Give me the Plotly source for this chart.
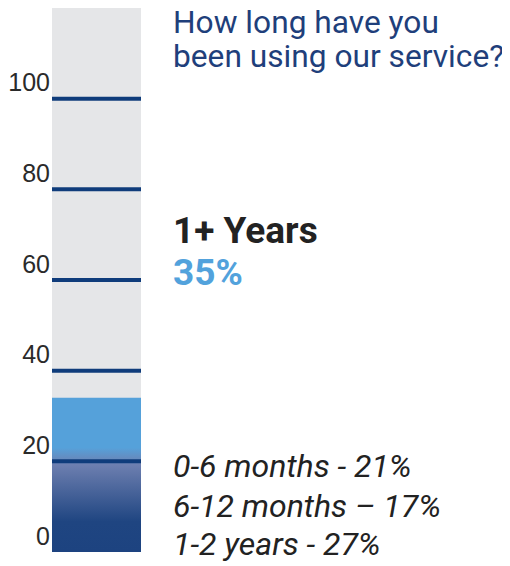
import plotly.graph_objects as go

# ---- data ----
axis_max = 120
tick_values = [0, 20, 40, 60, 80, 100]
tick_labels = ["0", "20", "40", "60", "80", "100"]
grid_values = [20, 40, 60, 80, 100]
highlight_level = 34      # light-blue fill top ("1+ Years 35%")
base_level = 23           # gradient fill top
title_lines = ["How long have you", "been using our service?"]
headline = "1+ Years"
headline_value = "35%"
detail_lines = ["0-6 months - 21%", "6-12 months \u2013 17%", "1-2 years - 27%"]

OFF = 8                           # page body margin
W, H = 510 - OFF, 566 - OFF
L, R, T, B = 52 - OFF, 141 - OFF, 0, 552 - OFF   # plot area in figure pixels


def px_x(px):
    return (px - OFF - L) / (R - L)


def px_y(py):
    return (B - (py - OFF)) / (B - T)


fig = go.Figure()

# background column
fig.add_trace(go.Bar(x=[0], y=[axis_max], width=1, marker=dict(color="#e5e6e8", line_width=0),
                     hoverinfo="skip", showlegend=False))
# light blue fill
fig.add_trace(go.Bar(x=[0], y=[highlight_level], width=1, marker=dict(color="#55a1da", line_width=0),
                     hoverinfo="skip", showlegend=False))
# gradient base fill
fig.add_trace(go.Scatter(
    x=[-0.5, 0.5, 0.5, -0.5, -0.5], y=[0, 0, base_level, base_level, 0],
    mode="lines", line=dict(width=0), fill="toself",
    fillgradient=dict(type="vertical",
                      colorscale=[[0, "#1d4380"], [0.29, "#1f4581"], [0.84, "#6d7fb0"], [1, "#56a1da"]]),
    hoverinfo="skip", showlegend=False))

for v in grid_values:
    fig.add_shape(type="line", xref="x", yref="y", x0=-0.5, x1=0.5, y0=v, y1=v,
                  line=dict(color="#0f3c7b", width=4), layer="above")

fig.update_layout(
    width=W, height=H,
    margin=dict(l=L, r=W - R, t=T, b=H - B, pad=0, autoexpand=False),
    paper_bgcolor="white", plot_bgcolor="white",
    barmode="overlay", showlegend=False,
    xaxis=dict(range=[-0.5, 0.5], visible=False, fixedrange=True, automargin=False),
    yaxis=dict(range=[0, axis_max], tickvals=tick_values, ticktext=tick_labels,
               showgrid=False, zeroline=False, showline=False, ticks="", automargin=False,
               ticklabelshift=-16, ticklabelstandoff=1, ticklabeloverflow="allow",
               tickfont=dict(family="Liberation Sans, Arial", size=25, color="#2a2a2a")),
)

ann = []
title_font = dict(family="Roboto", size=31.7, color="#1f3f7b")
for txt, base in zip(title_lines, [33.2, 67.2]):
    ann.append(dict(text=txt, x=px_x(171), y=px_y(base - 0.34 * 31.7), xref="paper", yref="paper",
                    xanchor="left", yanchor="middle", showarrow=False, font=title_font))
ann.append(dict(text="<b>" + headline + "</b>", x=px_x(171), y=px_y(242.7 - 0.34 * 37),
                xref="paper", yref="paper", xanchor="left", yanchor="middle", showarrow=False,
                font=dict(family="Roboto", size=37, color="#222222")))
ann.append(dict(text="<b>" + headline_value + "</b>", x=px_x(171), y=px_y(285 - 0.34 * 37),
                xref="paper", yref="paper", xanchor="left", yanchor="middle", showarrow=False,
                font=dict(family="Roboto", size=37, color="#52a2dc")))
for txt, base in zip(detail_lines, [476.7, 516.7, 555]):
    ann.append(dict(text="<i>" + txt + "</i>", x=px_x(171), y=px_y(base - 0.34 * 32),
                    xref="paper", yref="paper", xanchor="left", yanchor="middle", showarrow=False,
                    font=dict(family="Roboto", size=32, color="#222222")))
fig.update_layout(annotations=ann)

fig.write_html("out.html")
